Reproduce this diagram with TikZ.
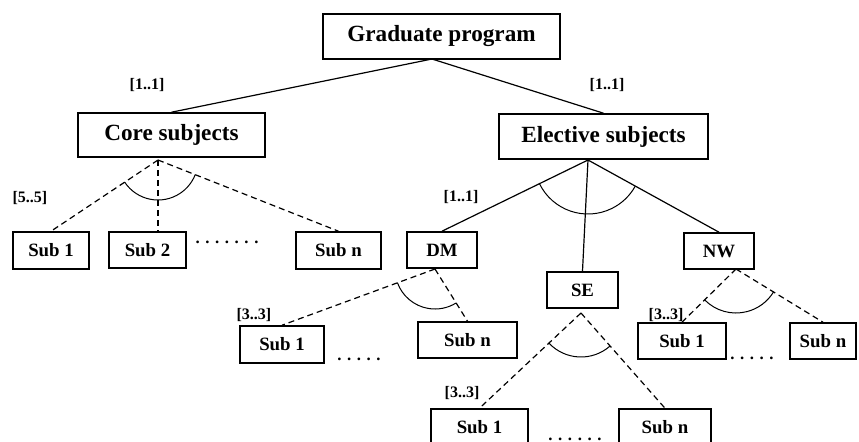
\documentclass[tikz,border=0pt]{standalone}
\usepackage{fontspec}
\setmainfont{Liberation Serif}
\usetikzlibrary{calc}

%% arc between the lines from an apex to two children
\newcommand{\grouparc}[4]{%
  \draw[arcline] let \p1=(#1), \p2=(#2), \p3=(#3),
    \n1={atan2(\y2-\y1,\x2-\x1)}, \n2={atan2(\y3-\y1,\x3-\x1)}
  in ($(#1)!#4!(#2)$) arc[start angle=\n1, end angle=\n2, radius=#4];}

\begin{document}
\begin{tikzpicture}[x=0.5pt,y=-0.5pt,
  box/.style={draw,line width=0.8pt,inner sep=0pt},
  boxsize/.style 2 args={minimum width=#1,minimum height=#2},
  topbox/.style={box,font=\fontsize{11.6}{13}\selectfont\bfseries},
  subbox/.style={box,font=\fontsize{9.4}{11}\selectfont\bfseries},
  card/.style={font=\fontsize{8}{9}\selectfont\bfseries},
  dots/.style={font=\fontsize{8.4}{10}\selectfont\bfseries},
  solidline/.style={line width=0.6pt},
  dashline/.style={line width=0.6pt,dash pattern=on 3pt off 2pt},
  arcline/.style={line width=0.5pt}]

  %% the picture is 859 x 441 pixels, the lowest boxes run off the bottom
  \clip (0,0) rectangle (859,441);

  %% top levels
  \node[topbox,boxsize={118.5pt}{22.5pt}] (grad) at (441.5,36.5) {Graduate program};
  \node[topbox,boxsize={93.5pt}{22pt}] (core) at (171.5,135) {Core subjects};
  \node[topbox,boxsize={104.5pt}{22.5pt}] (elec) at (603.5,136.5) {Elective subjects};

  %% core subjects
  \node[subbox,boxsize={38pt}{18.5pt}] (cs1) at (51,250.5) {Sub 1};
  \node[subbox,boxsize={38.5pt}{18pt}] (cs2) at (147.5,250) {Sub 2};
  \node[subbox,boxsize={42.5pt}{18.5pt}] (csn) at (338.5,250.5) {Sub n};
  \node[dots] (cs-dots) at (227,242) {. . . . . . .};

  %% elective subjects
  \node[subbox,boxsize={35pt}{18pt}] (dm) at (442,250) {DM};
  \node[subbox,boxsize={35.5pt}{18pt}] (se) at (582.5,290) {SE};
  \node[subbox,boxsize={35pt}{18pt}] (nw) at (719,251) {NW};

  \node[subbox,boxsize={42pt}{18.5pt}] (dm1) at (282,344.5) {Sub 1};
  \node[subbox,boxsize={49.5pt}{18pt}] (dmn) at (467.5,340) {Sub n};
  \node[dots] (dm-dots) at (359,359) {. . . . .};

  \node[subbox,boxsize={48.5pt}{18.5pt}] (se1) at (479.5,427.5) {Sub 1};
  \node[subbox,boxsize={46pt}{18.5pt}] (sen) at (665,427.5) {Sub n};
  \node[dots] (se-dots) at (575,439) {. . . . . .};

  \node[subbox,boxsize={44pt}{18pt}] (nw1) at (682,341) {Sub 1};
  \node[subbox,boxsize={33pt}{18pt}] (nwn) at (823,341) {Sub n};
  \node[dots] (nw-dots) at (752,358) {. . . . .};

  %% cardinalities
  \node[card] (c-core) at (147,85) {[1..1]};
  \node[card] (c-elec) at (607,85) {[1..1]};
  \node[card] (c-cs) at (30,198) {[5..5]};
  \node[card] (c-dm) at (461,197) {[1..1]};
  \node[card] (c-dm1) at (254,315) {[3..3]};
  \node[card] (c-se1) at (462,393) {[3..3]};
  \node[card] (c-nw1) at (666,315) {[3..3]};

  %% where the branches start
  \coordinate (grad-o) at (432,59);
  \coordinate (core-o) at (158,160);
  \coordinate (elec-o) at (588,160);
  \coordinate (dm-o) at (435,269);
  \coordinate (se-o) at (581,313);
  \coordinate (nw-o) at (736,269);

  \draw[solidline] (grad-o) -- (core.north);
  \draw[solidline] (grad-o) -- (elec.north);

  \draw[dashline] (core-o) -- (cs1.north);
  \draw[dashline] (core-o) -- (core-o |- cs2.north);
  \draw[dashline] (core-o) -- (csn.north);
  \grouparc{core-o}{cs1.north}{csn.north}{20pt}

  \draw[solidline] (elec-o) -- (dm.north);
  \draw[solidline] (elec-o) -- (se.north);
  \draw[solidline] (elec-o) -- (nw.north);
  \grouparc{elec-o}{dm.north}{nw.north}{27pt}

  \draw[dashline] (dm-o) -- (dm1.north);
  \draw[dashline] (dm-o) -- (dmn.north);
  \grouparc{dm-o}{dm1.north}{dmn.north}{20pt}

  \draw[dashline] (se-o) -- (se1.north);
  \draw[dashline] (se-o) -- (sen.north);
  \grouparc{se-o}{se1.north}{sen.north}{22pt}

  \draw[dashline] (nw-o) -- (nw1.north);
  \draw[dashline] (nw-o) -- (nwn.north);
  \grouparc{nw-o}{nw1.north}{nwn.north}{22pt}
\end{tikzpicture}
\end{document}
